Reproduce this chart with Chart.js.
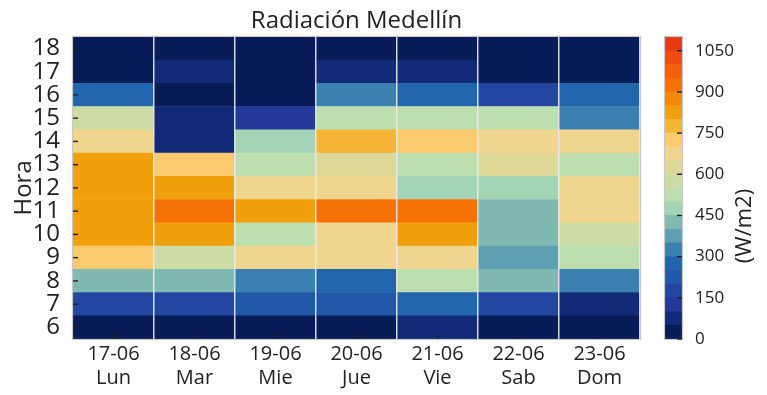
<!DOCTYPE html>
<html>
<head>
<meta charset="utf-8">
<script src="https://cdn.jsdelivr.net/npm/chart.js@4/dist/chart.umd.min.js"></script>
<style>
  html, body { margin: 0; padding: 0; background: #fff; }
  #wrap { position: relative; width: 767px; height: 395px; }
  #main { position: absolute; left: 0; top: 0; }
  #cbar { position: absolute; left: 640px; top: 0; }
</style>
</head>
<body>
<div id="wrap">
  <canvas id="main" width="660" height="395"></canvas>
  <canvas id="cbar" width="127" height="395"></canvas>
</div>
<script>
// datos ---------------------------------------------------------------------
const dias = ['17-06', '18-06', '19-06', '20-06', '21-06', '22-06', '23-06'];
const semana = ['Lun', 'Mar', 'Mie', 'Jue', 'Vie', 'Sab', 'Dom'];
const horas = [6, 7, 8, 9, 10, 11, 12, 13, 14, 15, 16, 17, 18];

// radiacion W/m2 por dia, de 6h a 18h
const lun = [15, 180, 430, 720, 830, 840, 825, 810, 670, 580, 270, 30, 5];
const mar = [20, 185, 420, 560, 820, 930, 835, 710, 80, 90, 40, 70, 10];
const mie = [25, 215, 330, 680, 530, 815, 690, 520, 470, 130, 35, 20, 5];
const jue = [30, 220, 280, 670, 660, 920, 675, 615, 780, 510, 320, 60, 10];
const vie = [60, 290, 520, 690, 820, 935, 460, 530, 740, 540, 290, 75, 10];
const sab = [30, 170, 410, 370, 440, 430, 470, 610, 660, 530, 190, 35, 5];
const dom = [25, 85, 340, 520, 590, 670, 680, 505, 665, 310, 270, 40, 5];
const columnas = [lun, mar, mie, jue, vie, sab, dom];

// escala de colores (niveles cada 50 W/m2)
const niveles = [0, 50, 100, 150, 200, 250, 300, 350, 400, 450, 500, 550,
                 600, 650, 700, 750, 800, 850, 900, 950, 1000, 1050, 1100];
const paleta = ['#081d58', '#132a78', '#24399a', '#2347a0', '#2357a8', '#2166ac',
                '#3a80b0', '#5e9fb2', '#80b8b2', '#a2d4b5', '#bddfb0', '#cddca5',
                '#ded898', '#f0d58f', '#fcca6e', '#f5b536', '#f0a00a', '#f4880a',
                '#f77205', '#f45f0c', '#ee4d12', '#e63a17'];
const cbTicks = [0, 150, 300, 450, 600, 750, 900, 1050];

// util ------------------------------------------------------------------------
const FONT = "'Open Sans', sans-serif";
const INK = '#222';
Chart.defaults.font.family = FONT;
Chart.defaults.color = INK;

function colorDe(v){
  let k = 0;
  for(let i = 0; i < paleta.length; i++){ if(v >= niveles[i]) k = i; }
  return paleta[k];
}

// marco gris + ticks hacia adentro
const marco = {
  id: 'marco',
  afterDraw(chart){
    const {ctx, chartArea: a} = chart;
    ctx.save();
    ctx.strokeStyle = '#c8c8c8';
    ctx.lineWidth = 1.2;
    ctx.strokeRect(a.left - 0.5, a.top - 0.5, a.right - a.left + 1, a.bottom - a.top + 1);
    ctx.strokeStyle = INK;
    ctx.lineWidth = 1.4;
    const len = 5;
    Object.values(chart.scales).forEach(s => {
      if(!s.options.display) return;
      s.ticks.forEach((t, i) => {
        const p = s.getPixelForTick(i);
        ctx.beginPath();
        if(s.position === 'left'){ ctx.moveTo(a.left, p); ctx.lineTo(a.left + len, p); }
        else if(s.position === 'right'){ ctx.moveTo(a.right, p); ctx.lineTo(a.right - len, p); }
        else if(s.position === 'bottom'){ ctx.moveTo(p, a.bottom); ctx.lineTo(p, a.bottom - len); }
        ctx.stroke();
      });
    });
    ctx.restore();
  }
};

// etiqueta vertical de la barra de color (de abajo hacia arriba)
const etiquetaCb = {
  id: 'etiquetaCb',
  afterDraw(chart){
    const {ctx, chartArea: a} = chart;
    ctx.save();
    ctx.translate(a.right + 63, (a.top + a.bottom) / 2 + 38);
    ctx.rotate(-Math.PI / 2);
    ctx.font = '22px ' + FONT;
    ctx.fillStyle = INK;
    ctx.textAlign = 'center';
    ctx.textBaseline = 'middle';
    ctx.fillText('(W/m2)', 0, 0);
    ctx.restore();
  }
};

// heatmap -------------------------------------------------------------------
new Chart(document.getElementById('main'), {
  type: 'bar',
  data: {
    labels: dias.map((d, i) => [d, semana[i]]),
    datasets: horas.map((h, i) => ({
      label: h + 'h',
      data: dias.map(() => 1),
      backgroundColor: columnas.map(c => colorDe(c[i])),
      borderWidth: 0,
      barPercentage: 1,
      categoryPercentage: 1
    }))
  },
  options: {
    responsive: false,
    animation: false,
    layout: { padding: { left: 0, right: 20, top: 0, bottom: 0 } },
    plugins: {
      legend: { display: false },
      tooltip: { enabled: false },
      title: {
        display: true, text: 'Radiación Medellín', fullSize: false,
        font: { size: 24, weight: 'normal' }, color: INK,
        padding: { top: 7, bottom: 1 }
      }
    },
    scales: {
      x: {
        stacked: true,
        grid: {
          offset: true, drawTicks: false, lineWidth: 1.5, z: 1,
          color: ctx => (ctx.index === 0 || ctx.index >= dias.length) ? 'rgba(0,0,0,0)' : 'rgba(235,235,235,0.9)'
        },
        border: { display: false },
        ticks: { font: { size: 20 }, color: INK, padding: 3, maxRotation: 0 },
        afterFit: s => { s.height = 56; }
      },
      y: {
        stacked: true,
        min: 0,
        max: horas.length,
        grid: { display: false },
        border: { display: false },
        afterBuildTicks: s => { s.ticks = horas.map((h, i) => ({ value: i + 0.5 })); },
        ticks: { font: { size: 24 }, color: INK, padding: 5, autoSkip: false,
                 callback: v => horas[Math.floor(v)] },
        title: { display: true, text: 'Hora', font: { size: 24 }, color: INK, padding: { top: 10, bottom: 0 } },
        afterFit: s => { s.width = 73; }
      }
    }
  },
  plugins: [marco]
});

// barra de color ---------------------------------------------------------------
new Chart(document.getElementById('cbar'), {
  type: 'bar',
  data: {
    labels: [''],
    datasets: paleta.map((c, i) => ({
      data: [niveles[i + 1] - niveles[i]],
      backgroundColor: c,
      borderWidth: 0,
      barPercentage: 1,
      categoryPercentage: 1
    }))
  },
  options: {
    responsive: false,
    animation: false,
    layout: { padding: { left: 25, right: 0, top: 37, bottom: 56 } },
    plugins: { legend: { display: false }, tooltip: { enabled: false } },
    scales: {
      x: { stacked: true, display: false },
      y: {
        stacked: true, position: 'right', min: 0, max: 1100,
        grid: { display: false },
        border: { display: false },
        afterBuildTicks: s => { s.ticks = cbTicks.map(v => ({ value: v })); },
        ticks: { font: { size: 17 }, color: INK, padding: 5, autoSkip: false, callback: v => String(v) },
        afterFit: s => { s.width = 85; }
      }
    }
  },
  plugins: [marco, etiquetaCb]
});
</script>
</body>
</html>
